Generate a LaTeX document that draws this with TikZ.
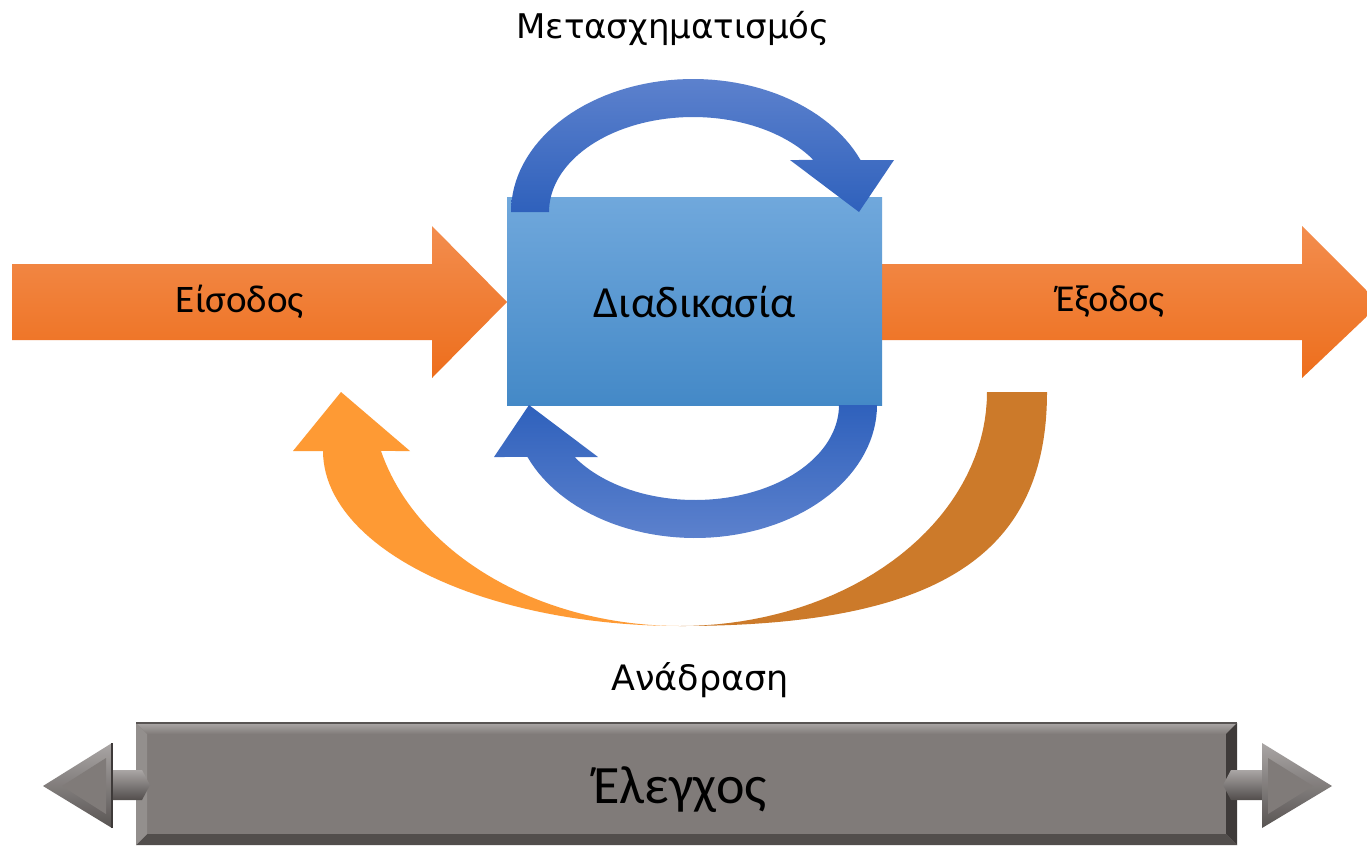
\documentclass[tikz,border=0pt]{standalone}
\usepackage{fontspec}
\setmainfont{DejaVu Sans}
\newfontfamily\calib{Carlito}
\begin{document}
\begin{tikzpicture}[x=1pt,y=-1pt,
  orangearrow/.style={top color=orTop,bottom color=orBot,draw=none},
  blueup/.style={top color=blLight,bottom color=blDark,draw=none},
  bluedown/.style={top color=blDark,bottom color=blLight,draw=none},
  lbl/.style={inner sep=0pt,text=black},
  graybody/.style={fill=grBody,draw=none}]
\definecolor{orTop}{RGB}{243,141,78}
\definecolor{orBot}{RGB}{237,110,28}
\definecolor{blLight}{RGB}{92,129,205}
\definecolor{blDark}{RGB}{47,97,188}
\definecolor{boxTop}{RGB}{112,168,220}
\definecolor{boxBot}{RGB}{68,137,199}
\definecolor{fbLight}{RGB}{254,154,52}
\definecolor{fbDark}{RGB}{204,122,42}
\definecolor{grBody}{RGB}{128,123,121}
\definecolor{grLight}{RGB}{170,166,165}
\definecolor{grDark}{RGB}{62,58,57}
\useasboundingbox (0,0) rectangle (1367,847);
\clip (0,0) rectangle (1367,847);
\fill[white] (0,0) rectangle (1367,847);

% input / output arrows
\path[orangearrow] (12,264) -- (432,264) -- (432,226) -- (507,302) -- (432,378) -- (432,340) -- (12,340) -- cycle;
\path[orangearrow] (882,264) -- (1302,264) -- (1302,226) -- (1380,304) -- (1302,378) -- (1302,340) -- (882,340) -- cycle;

% feedback arrow (dark back part)
\fill[fbDark] (1047,392) .. controls (1047,556) and (937,626) .. (680,626)
  -- plot[domain=90:0,samples=40,variable=\t] ({680+307*cos(\t)},{392+234*sin(\t)}) -- cycle;
% feedback arrow (light front part with head)
\fill[fbLight] (323,451)
  -- plot[domain=180:90,samples=50,variable=\t] ({680+357*cos(\t)},{451+175*sin(\t)})
  -- plot[domain=90:165.4,samples=50,variable=\t] ({680+309*cos(\t)},{392+234*sin(\t)})
  -- (410,451) -- (341,392) -- (293,451) -- cycle;

% process box
\path[top color=boxTop,bottom color=boxBot] (507,197) rectangle (882,405);
\node[lbl,font=\calib\fontsize{44.5}{50}\selectfont] (proc) at (695,302) {Διαδικασία};

% top blue circular arrow
\path[blueup] (511,212)
  -- plot[domain=180:337,samples=60,variable=\t] ({693+182*cos(\t)},{212+133*sin(\t)})
  -- (894,160) -- (859,212) -- (790,160)
  -- plot[domain=326.8:180,samples=60,variable=\t] ({693+144*cos(\t)},{212+95*sin(\t)})
  -- cycle;
% bottom blue circular arrow
\path[bluedown] (877,405)
  -- plot[domain=0:157,samples=60,variable=\t] ({695+182*cos(\t)},{405+133*sin(\t)})
  -- (494,457) -- (529,405) -- (598,457)
  -- plot[domain=146.8:0,samples=60,variable=\t] ({695+144*cos(\t)},{405+95*sin(\t)})
  -- cycle;

% labels
\node[lbl,anchor=base,font=\fontsize{34}{40}\selectfont] (transf) at (673,38) {Μετασχηματισμός};
\node[lbl,font=\calib\fontsize{39}{45}\selectfont] (in) at (240,302) {Είσοδος};
\node[lbl,font=\calib\fontsize{38}{44}\selectfont] (out) at (1110,302) {Έξοδος};
\node[lbl,anchor=base,font=\fontsize{35}{40}\selectfont] (fb) at (700,690) {Ανάδραση};

% control bar
\path[graybody] (136,723) rectangle (1237,845);
\path[top color=grLight,bottom color=grBody] (136,723) -- (1237,723) -- (1226,734) -- (147,734) -- cycle;
\fill[grDark] (1237,723) -- (1237,845) -- (1226,834) -- (1226,734) -- cycle;
\fill[grDark!70!grBody] (136,845) -- (1237,845) -- (1226,834) -- (147,834) -- cycle;
\fill[grBody!85!white] (136,723) -- (147,734) -- (147,834) -- (136,845) -- cycle;
\draw[grDark!60!grBody,line width=1.2] (136,723) -- (1237,723);
% left arrow of the bar
\path[top color=grLight,bottom color=grDark!70!grBody] (98,785) -- (106,770) -- (142,770) -- (150,785) -- (142,800) -- (106,800) -- cycle;
\path[top color=grLight,bottom color=grDark!60!grBody] (43,786) -- (112,743) -- (112,828) -- cycle;
\fill[grBody] (62,786) -- (106,758) -- (106,814) -- cycle;
\draw[grDark,line width=1.5] (112,743) -- (112,828);
% right arrow of the bar
\path[top color=grLight,bottom color=grDark!70!grBody] (1223,785) -- (1231,770) -- (1266,770) -- (1274,785) -- (1266,800) -- (1231,800) -- cycle;
\path[top color=grLight,bottom color=grDark!60!grBody] (1332,786) -- (1262,743) -- (1262,828) -- cycle;
\fill[grBody] (1313,786) -- (1268,758) -- (1268,814) -- cycle;
\node[lbl,font=\calib\fontsize{54}{60}\selectfont] (ctrl) at (680,790) {Έλεγχος};
\end{tikzpicture}
\end{document}
